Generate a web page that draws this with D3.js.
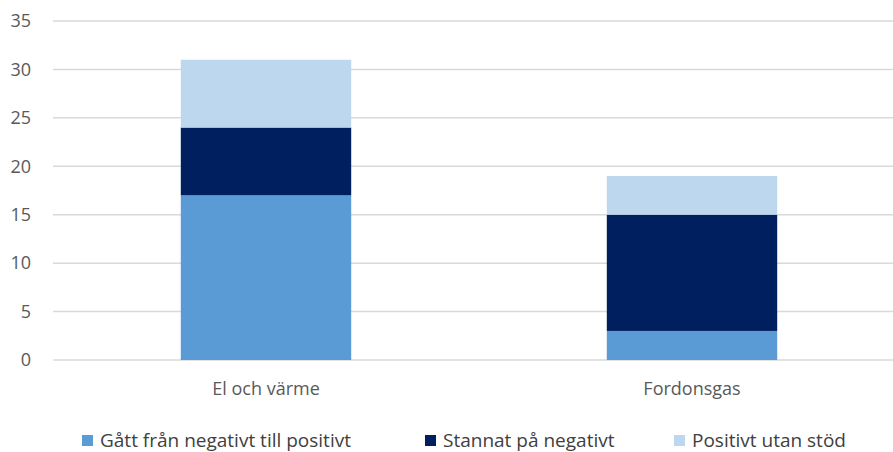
<!DOCTYPE html>
<html>
<head>
<meta charset="utf-8">
<script src="https://cdn.jsdelivr.net/npm/d3@7/dist/d3.min.js"></script>
<style>
  html, body { margin: 0; padding: 0; background: #fff; }
  svg { display: block; }
</style>
</head>
<body>
<svg id="chart" width="893" height="452"></svg>
<script>
// Categories and stacked series
const categories = ["El och värme", "Fordonsgas"];
const seriesNames = ["Gått från negativt till positivt", "Stannat på negativt", "Positivt utan stöd"];
const gattFranNegativt = [17, 3];
const stannatPaNegativt = [7, 12];
const positivtUtanStod = [7, 4];
const yTicks = [0, 5, 10, 15, 20, 25, 30, 35];
const colors = ["#5B9BD5", "#001F5F", "#BDD7EE"];

const rows = categories.map((c, i) => ({
  cat: c,
  [seriesNames[0]]: gattFranNegativt[i],
  [seriesNames[1]]: stannatPaNegativt[i],
  [seriesNames[2]]: positivtUtanStod[i]
}));

const svg = d3.select("#chart");
const plotLeft = 53, plotRight = 905, plotTop = 21, plotBottom = 360;

const x = d3.scaleBand().domain(categories).range([plotLeft, plotRight])
  .paddingInner(0.6).paddingOuter(0.3);
const y = d3.scaleLinear().domain([0, 35]).range([plotBottom, plotTop]);

// Gridlines
svg.append("g").selectAll("line").data(yTicks).join("line")
  .attr("x1", plotLeft).attr("x2", 893)
  .attr("y1", d => y(d)).attr("y2", d => y(d))
  .attr("stroke", "#d9d9d9").attr("stroke-width", 1.5);

// Y axis labels
const yAxis = d3.axisLeft(y).tickValues(yTicks).tickSize(0).tickPadding(0);
const yg = svg.append("g").attr("transform", `translate(31,0)`).call(yAxis);
yg.select(".domain").remove();
yg.selectAll("text")
  .attr("font-family", "'Open Sans', 'Noto Sans', sans-serif")
  .attr("font-size", 18).attr("fill", "#595959");

// Stacked bars
const stack = d3.stack().keys(seriesNames)(rows);
svg.append("g").selectAll("g").data(stack).join("g")
  .attr("fill", (d, i) => colors[i])
  .selectAll("rect").data(d => d).join("rect")
  .attr("x", d => x(d.data.cat))
  .attr("width", x.bandwidth())
  .attr("y", d => y(d[1]))
  .attr("height", d => y(d[0]) - y(d[1]));

// X axis labels
const xAxis = d3.axisBottom(x).tickSize(0).tickPadding(0);
const xg = svg.append("g").attr("transform", `translate(0,${plotBottom + 22})`).call(xAxis);
xg.select(".domain").remove();
xg.selectAll("text")
  .attr("font-family", "'Open Sans', 'Noto Sans', sans-serif")
  .attr("font-size", 18).attr("fill", "#595959");

// Legend
const legendX = [82, 425, 674];
const lg = svg.append("g").selectAll("g").data(seriesNames).join("g")
  .attr("transform", (d, i) => `translate(${legendX[i]},0)`);
lg.append("rect").attr("x", 0).attr("y", 435).attr("width", 11).attr("height", 11)
  .attr("fill", (d, i) => colors[i]);
lg.append("text").attr("x", 18).attr("y", 447)
  .attr("font-family", "'Liberation Sans Narrow', 'Open Sans', sans-serif")
  .attr("font-size", 19).attr("fill", "#404040")
  .text(d => d);
</script>
</body>
</html>
